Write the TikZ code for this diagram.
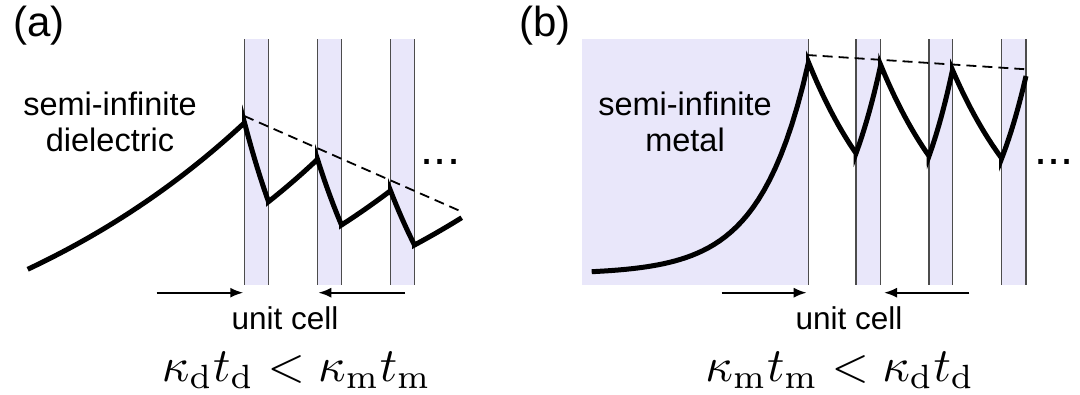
\documentclass[tikz,border=0pt]{standalone}
\usepackage[no-math]{fontspec}
\setmainfont{Liberation Sans}
\usetikzlibrary{arrows.meta}
\definecolor{metal}{RGB}{233,231,250}
\begin{document}
\begin{tikzpicture}[x=1pt,y=-1pt,
  vline/.style={black!70, line width=1.3pt},
  curve/.style={line width=5pt},
  envl/.style={dash pattern=on 10pt off 6pt, line width=1.8pt},
  arr/.style={line width=2pt, -{Latex[length=13pt,width=10pt]}},
  lbl/.style={font=\fontsize{31.5}{36}\selectfont, inner sep=0pt, align=center},
  biglbl/.style={font=\fontsize{32.5}{36}\selectfont, inner sep=0pt, align=center},
  plabel/.style={font=\fontsize{42}{50}\selectfont, inner sep=0pt},
  dots/.style={font=\fontsize{47}{56}\selectfont, inner sep=0pt},
  mathlbl/.style={font=\fontsize{10}{12}\selectfont, inner sep=0pt, scale=4.8},
  eseg/.style n args={5}{insert path={-- plot[domain=#1:#3,samples=40] (\x,{#5-(#5-#2)*exp(ln((#5-#4)/(#5-#2))*(\x-#1)/(#3-#1))})}}
]
\useasboundingbox (0,0) rectangle (1080,395);

% ---------- panel (a) ----------
\foreach \xa/\xb in {244.5/268.5, 317.5/341.5, 390.5/414.5}
  \fill[metal] (\xa,39.3) rectangle (\xb,285);
\foreach \xx in {244.5,268.5,317.5,341.5,390.5,414.5}
  \draw[vline] (\xx,39.3) -- (\xx,285);

\draw[curve] (27.7,269.3)
  [eseg={27.7}{269.3}{244.5}{122.7}{420}]
  [eseg={244.5}{122.7}{268.5}{201.7}{420}]
  [eseg={268.5}{201.7}{317.5}{159.3}{420}]
  [eseg={317.5}{159.3}{341.5}{225}{420}]
  [eseg={341.5}{225}{390.5}{190.7}{420}]
  [eseg={390.5}{190.7}{414.5}{245}{420}]
  [eseg={414.5}{245}{461.7}{217.7}{420}];

\coordinate (ea1) at (244.3,116);
\coordinate (ea2) at (461.7,211.7);
\draw[envl] (ea1) -- (ea2);

\node[plabel, anchor=base] (la) at (39,37) {(a)};
\node[biglbl, anchor=base] (diel) at (110,151.7) {semi-infinite\\dielectric};
\node[dots, anchor=base] (dotsa) at (440.5,165) {...};

\coordinate (ua1) at (156.7,292.7);
\coordinate (ua2) at (243.3,292.7);
\coordinate (ua3) at (405,292.7);
\coordinate (ua4) at (318.3,292.7);
\draw[arr] (ua1) -- (ua2);
\draw[arr] (ua3) -- (ua4);
\node[lbl, anchor=base] (uca) at (285,330) {unit cell};
\node[mathlbl, anchor=base] (ma) at (296.5,381.7) {$\kappa_\mathrm{d} t_\mathrm{d} < \kappa_\mathrm{m} t_\mathrm{m}$};

% ---------- panel (b) ----------
\fill[metal] (581.7,39.3) rectangle (808.5,285);
\foreach \xa/\xb in {856/880.7, 929/952.5, 1001.7/1026}
  \fill[metal] (\xa,39.3) rectangle (\xb,285);
\foreach \xx in {808.5,856,880.7,929,952.5,1001.7,1026}
  \draw[vline] (\xx,39.3) -- (\xx,285);

\draw[curve] (591.7,271.7)
  [eseg={591.7}{271.7}{808.5}{62.3}{274}]
  [eseg={808.5}{62.3}{856}{153.3}{282}]
  [eseg={856}{153.3}{880.7}{65}{282}]
  [eseg={880.7}{65}{929}{156}{282}]
  [eseg={929}{156}{952.5}{70}{282}]
  [eseg={952.5}{70}{1001.7}{158.3}{282}]
  [eseg={1001.7}{158.3}{1026}{76}{282}];

\coordinate (eb1) at (806.7,55);
\coordinate (eb2) at (1026,69.3);
\draw[envl] (eb1) -- (eb2);

\node[plabel, anchor=base] (lb) at (545,37) {(b)};
\node[biglbl, anchor=base] (met) at (685,151.7) {semi-infinite\\metal};
\node[dots, anchor=base] (dotsb) at (1054.2,165) {...};

\coordinate (ub1) at (721.7,292.7);
\coordinate (ub2) at (806.7,292.7);
\coordinate (ub3) at (969.3,292.7);
\coordinate (ub4) at (884,292.7);
\draw[arr] (ub1) -- (ub2);
\draw[arr] (ub3) -- (ub4);
\node[lbl, anchor=base] (ucb) at (849,330) {unit cell};
\node[mathlbl, anchor=base] (mb) at (840,381.7) {$\kappa_\mathrm{m} t_\mathrm{m} < \kappa_\mathrm{d} t_\mathrm{d}$};
\end{tikzpicture}
\end{document}
